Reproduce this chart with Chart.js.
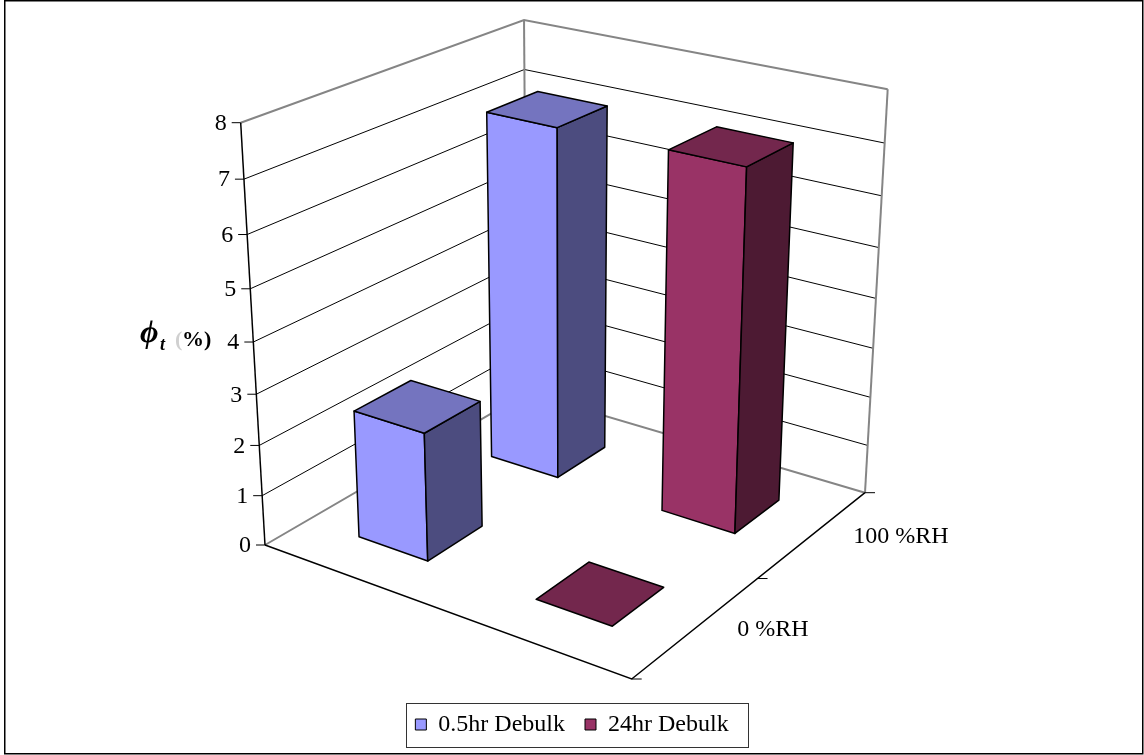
<!DOCTYPE html>
<html lang="en">
<head>
<meta charset="UTF-8">
<title>Debulk porosity</title>
<script src="https://cdn.jsdelivr.net/npm/chart.js"></script>
<style>
  body { margin: 0; background: #fff; }
  .wrap { width: 1144px; height: 755px; position: relative; }
</style>
</head>
<body>
<div class="wrap"><canvas id="phiChart"></canvas></div>
<script>
const categories = ['0 %RH', '100 %RH'];
const seriesNames = ['0.5hr Debulk', '24hr Debulk'];
const debulk05 = [2.53, 7.06];
const debulk24 = [0, 7.1];
const yMax = 8;
const yStep = 1;

const frontColors = ['#9999FF', '#993366'];
const topColors = ['#7474BF', '#73274D'];
const sideColors = ['#4C4C7F', '#4D1A33'];
const serif = "'Liberation Serif', 'Times New Roman', 'DejaVu Serif', serif";

// plot box on the canvas: floor corners (left, front, right, back),
// the point where the upright edges meet, and the top of the value axis
const boxLeft = [265, 545], boxFront = [631.7, 679], boxRight = [865, 492.7], boxBack = [526.8, 392.8];
const vanish = [567, 5791];
const axisTopY = 122.7;

// u runs along the series (left -> front), v along the categories (front -> right),
// s is the height as a fraction of the value axis
function makeProjector() {
  const [x0, y0] = boxLeft, [x1, y1] = boxFront, [x2, y2] = boxRight, [x3, y3] = boxBack;
  const dx1 = x1 - x2, dx2 = x3 - x2, dx3 = x0 - x1 + x2 - x3;
  const dy1 = y1 - y2, dy2 = y3 - y2, dy3 = y0 - y1 + y2 - y3;
  const den = dx1 * dy2 - dx2 * dy1;
  const g = (dx3 * dy2 - dx2 * dy3) / den;
  const h = (dx1 * dy3 - dx3 * dy1) / den;
  const a = x1 - x0 + g * x1, b = x3 - x0 + h * x3;
  const d = y1 - y0 + g * y1, e = y3 - y0 + h * y3;
  const t = (axisTopY - y0) / (vanish[1] - y0);
  const k = t / (1 - t);
  return (u, v, s) => {
    const w = g * u + h * v + 1, q = s * k;
    return {
      x: (a * u + b * v + x0 + q * vanish[0]) / (w + q),
      y: (d * u + e * v + y0 + q * vanish[1]) / (w + q),
      w
    };
  };
}
const project = makeProjector();

function path(ctx, pts, color, width, close) {
  ctx.beginPath();
  pts.forEach((p, i) => i ? ctx.lineTo(p.x, p.y) : ctx.moveTo(p.x, p.y));
  if (close) ctx.closePath();
  ctx.strokeStyle = color;
  ctx.lineWidth = width;
  ctx.stroke();
}

function face(ctx, pts, fill) {
  ctx.beginPath();
  pts.forEach((p, i) => i ? ctx.lineTo(p.x, p.y) : ctx.moveTo(p.x, p.y));
  ctx.closePath();
  ctx.fillStyle = fill;
  ctx.fill();
  ctx.strokeStyle = '#000';
  ctx.lineWidth = 1.5;
  ctx.lineJoin = 'round';
  ctx.stroke();
}

const box3d = {
  id: 'box3d',
  beforeDatasetsDraw(chart) {
    const ctx = chart.ctx;
    const xs = chart.scales.x, ys = chart.scales.y;
    const base = ys.getPixelForValue(ys.min), full = ys.getPixelForValue(ys.max);
    const frac = val => (base - ys.getPixelForValue(val)) / (base - full);
    const nS = chart.data.datasets.length, nC = chart.data.labels.length;
    ctx.save();

    // walls and gridlines
    ys.ticks.forEach(tk => {
      const s = frac(tk.value);
      const edge = tk.value === ys.min || tk.value === ys.max;
      path(ctx, [project(0, 0, s), project(0, 1, s), project(1, 1, s)],
        edge ? '#858585' : '#000', edge ? 2 : 1);
    });
    path(ctx, [project(0, 1, 0), project(0, 1, 1)], '#858585', 2);
    path(ctx, [project(1, 1, 0), project(1, 1, 1)], '#858585', 2);

    // value axis with ticks and labels
    path(ctx, [project(0, 0, 0), project(0, 0, 1)], '#000', 1.5);
    ctx.font = '24px ' + serif;
    ctx.fillStyle = '#000';
    ctx.textAlign = 'right';
    ctx.textBaseline = 'middle';
    ys.ticks.forEach(tk => {
      const p = project(0, 0, frac(tk.value));
      path(ctx, [{x: p.x - 9, y: p.y}, p], '#000', 1);
      ctx.fillText(tk.label, p.x - 14, p.y + 1);
    });

    // floor front edges, category ticks and labels
    path(ctx, [project(0, 0, 0), project(1, 0, 0), project(1, 1, 0)], '#000', 1.5);
    for (let i = 0; i <= nC; i++) {
      const p = project(1, i / nC, 0);
      path(ctx, [p, {x: p.x + 10, y: p.y}], '#000', 1);
    }
    ctx.textAlign = 'left';
    chart.data.labels.forEach((lab, i) => {
      const v = (xs.getPixelForValue(i) - xs.left) / xs.width;
      const p = project(1, v, 0);
      ctx.fillText(lab, p.x + 40, p.y + 3);
    });

    // columns, farthest first
    const bars = [];
    chart.data.datasets.forEach((ds, k) => {
      const uc = (k + 0.5) / nS, hu = 0.2 / nS;
      ds.data.forEach((val, i) => {
        const vc = (xs.getPixelForValue(i) - xs.left) / xs.width, hv = 0.2 / nC;
        bars.push({k, u0: uc - hu, u1: uc + hu, v0: vc - hv, v1: vc + hv, s: frac(val),
          depth: project(uc, vc, 0).w});
      });
    });
    bars.sort((p, q) => q.depth - p.depth);
    bars.forEach(b => {
      const P = (u, v, s) => project(u, v, s);
      if (b.s > 0) {
        face(ctx, [P(b.u0, b.v0, 0), P(b.u1, b.v0, 0), P(b.u1, b.v0, b.s), P(b.u0, b.v0, b.s)], frontColors[b.k]);
        face(ctx, [P(b.u1, b.v0, 0), P(b.u1, b.v1, 0), P(b.u1, b.v1, b.s), P(b.u1, b.v0, b.s)], sideColors[b.k]);
      }
      face(ctx, [P(b.u0, b.v0, b.s), P(b.u1, b.v0, b.s), P(b.u1, b.v1, b.s), P(b.u0, b.v1, b.s)], topColors[b.k]);
    });

    ctx.restore();
    return false;
  },
  afterDraw(chart) {
    const ctx = chart.ctx;
    ctx.save();
    // frame round the legend
    const hb = chart.legend.legendHitBoxes;
    if (hb.length) {
      const last = hb[hb.length - 1];
      const l = Math.round(hb[0].left - 9) + 0.5, r = Math.round(last.left + last.width + 19) + 0.5;
      const t = Math.round(hb[0].top - 10) + 0.5, btm = Math.round(hb[0].top + hb[0].height + 10) + 0.5;
      ctx.strokeStyle = '#333';
      ctx.lineWidth = 1;
      ctx.strokeRect(l, t, r - l, btm - t);
    }
    // axis title
    ctx.fillStyle = '#000';
    ctx.textAlign = 'left';
    ctx.textBaseline = 'alphabetic';
    ctx.font = 'bold italic 32px ' + serif;
    ctx.fillText('ϕ', 140, 342);
    ctx.font = 'bold italic 18px ' + serif;
    ctx.fillText('t', 160, 350);
    ctx.font = 'bold 22px ' + serif;
    ctx.fillStyle = '#d0d0d0';
    ctx.fillText('(', 175, 346);
    ctx.fillStyle = '#000';
    ctx.fillText('%)', 182, 346);
    // outer border
    ctx.strokeStyle = '#000';
    ctx.lineWidth = 1.5;
    ctx.strokeRect(4.75, 0.75, 1138, 753);
    ctx.restore();
  }
};

new Chart(document.getElementById('phiChart'), {
  type: 'bar',
  data: {
    labels: categories,
    datasets: [
      { label: seriesNames[0], data: debulk05, backgroundColor: frontColors[0], borderColor: '#000', borderWidth: 1 },
      { label: seriesNames[1], data: debulk24, backgroundColor: frontColors[1], borderColor: '#000', borderWidth: 1 }
    ]
  },
  options: {
    responsive: true,
    maintainAspectRatio: false,
    animation: false,
    events: [],
    layout: { padding: { left: 0, bottom: 8.5 } },
    scales: {
      x: { display: false },
      y: { display: false, min: 0, max: yMax, ticks: { stepSize: yStep } }
    },
    plugins: {
      tooltip: { enabled: false },
      legend: {
        position: 'bottom',
        labels: {
          boxWidth: 11,
          boxHeight: 11,
          padding: 20,
          color: '#000',
          font: { family: serif, size: 24 }
        }
      }
    }
  },
  plugins: [box3d]
});
</script>
</body>
</html>
